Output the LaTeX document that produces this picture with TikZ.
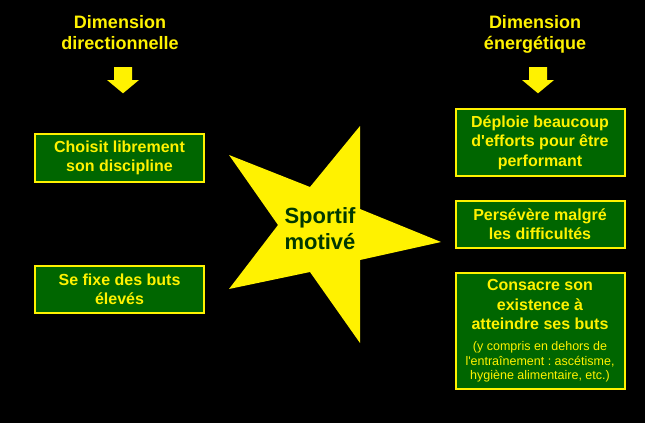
\documentclass[tikz,border=0pt]{standalone}
\usepackage{fontspec}
\setmainfont{Liberation Sans}[Ligatures=TeXOff]
\frenchspacing
\newcommand{\notefont}{\mdseries\fontsize{12.5}{14.7}\selectfont}

\begin{document}
\begin{tikzpicture}[x=1pt,y=-1pt]
\colorlet{slide_yellow}{yellow}
\definecolor{box_green}{RGB}{0,102,0}
\definecolor{star_text}{RGB}{0,56,0}
\tikzset{
  dim_title/.style={text=slide_yellow,align=center,inner sep=0,font=\bfseries\fontsize{18}{21.7}\selectfont},
  goal_box/.style={draw=slide_yellow,fill=box_green,line width=2pt,text=slide_yellow,align=center,
    inner sep=0,outer sep=0,minimum width=169pt,font=\bfseries\fontsize{16}{19.3}\selectfont},
}

% background
\fill[black] (0,0) rectangle (645,423);

% titles and arrows
\node[dim_title] (dir) at (120,32.7) {Dimension\\directionnelle};
\node[dim_title] (ene) at (535,34.4) {Dimension\\énergétique};
\foreach \ax in {123,538}{
\fill[slide_yellow] (\ax-9,67) -- ++(18,0) -- ++(0,13) -- ++(7,0) -- (\ax,93.3) -- (\ax-16,80) -- ++(7,0) -- cycle;
}

% star
\fill[slide_yellow] (441,242) -- (360,209) -- (360,126) -- (310,187) -- (229,155) -- (278,225)
  -- (229,289) -- (310,272) -- (360,343) -- (360,260) -- cycle;
\node[text=star_text,align=center,inner sep=0,font=\bfseries\fontsize{22}{26}\selectfont] (sportif) at (320,229) {Sportif\\motivé};

% left boxes
\node[goal_box,minimum height=48pt] (choix) at (119.5,158) {Choisit librement\\son discipline};
\node[goal_box,minimum height=47pt] (buts) at (119.5,289.5) {Se fixe des buts\\élevés};

% right boxes
\node[goal_box,minimum height=67pt] (efforts) at (540,142.5) {Déploie beaucoup\\d'efforts pour être\\performant};
\node[goal_box,minimum height=47pt] (persev) at (540,224.5) {Persévère malgré\\les difficultés};
\node[goal_box,minimum height=116pt] (consacre) at (540,331) {Consacre son\\existence à\\atteindre ses buts\\[1.7pt]
  \notefont (y compris en dehors de\\[-4.6pt]\notefont l'entraînement : ascétisme,\\[-4.6pt]\notefont hygiène alimentaire, etc.)};
\end{tikzpicture}
\end{document}
